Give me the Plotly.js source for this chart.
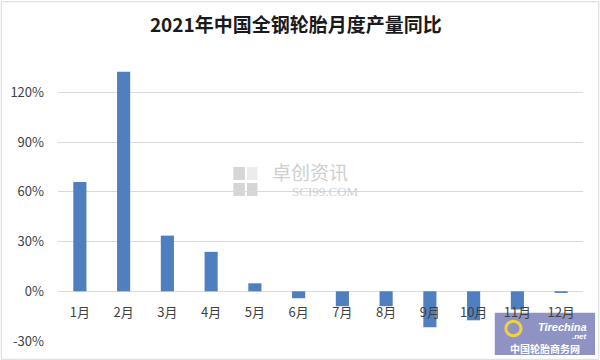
<!DOCTYPE html>
<html>
<head>
<meta charset="utf-8">
<script src="https://cdn.plot.ly/plotly-3.0.1.min.js"></script>
<style>html,body{margin:0;padding:0;background:#fff;}#chart{width:600px;height:360px;}</style>
</head>
<body>
<div id="chart"></div>
<script>
var months = ['1月','2月','3月','4月','5月','6月','7月','8月','9月','10月','11月','12月'];
var yoy = [0.66, 1.325, 0.336, 0.238, 0.048, -0.042, -0.09, -0.09, -0.217, -0.175, -0.11, -0.01];
var yTicks = [-0.3, 0, 0.3, 0.6, 0.9, 1.2];
var yTickText = ['-30%','0%','30%','60%','90%','120%'];

var yMin = -0.3, yMax = 1.45;
var zeroPos = (0 - yMin) / (yMax - yMin);
var cjk = '"Noto Sans CJK SC", "Noto Sans", sans-serif';

var data = [{
  type: 'bar',
  x: months,
  y: yoy,
  marker: {color: '#4f7fbf'},
  hoverinfo: 'x+y'
}];

var layout = {
  width: 600, height: 360,
  margin: {l: 58, r: 17, t: 51, b: 19},
  paper_bgcolor: '#ffffff',
  plot_bgcolor: 'rgba(0,0,0,0)',
  bargap: 0.7,
  showlegend: false,
  title: {
    text: '2021年中国全钢轮胎月度产量同比',
    font: {family: cjk, size: 19, color: '#1a1a1a', weight: 'bold'},
    x: 0.493, xanchor: 'center', xref: 'container', y: 0.93, yanchor: 'middle'
  },
  xaxis: {
    type: 'category',
    anchor: 'free',
    position: zeroPos,
    showgrid: false,
    zeroline: false,
    showline: false,
    ticks: '',
    ticklabelstandoff: 12,
    tickfont: {family: cjk, size: 13, color: '#404040'},
    fixedrange: true
  },
  yaxis: {
    range: [yMin, yMax],
    tickvals: yTicks,
    ticktext: yTickText,
    showgrid: true,
    gridcolor: '#d9d9d9',
    gridwidth: 1,
    zeroline: true,
    zerolinecolor: '#d9d9d9',
    zerolinewidth: 1,
    showline: false,
    ticks: '',
    ticklabelstandoff: 13,
    tickfont: {family: cjk, size: 13, color: '#404040'},
    fixedrange: true
  },
  shapes: [
    {type: 'rect', xref: 'paper', yref: 'paper', x0: -0.108, x1: 1.03, y0: -0.063, y1: 1.17,
     line: {color: '#d9d9d9', width: 1}, fillcolor: 'rgba(0,0,0,0)', layer: 'below'},
    {type: 'rect', xref: 'paper', yref: 'paper', x0: 0.334, x1: 0.356, y0: 0.555, y1: 0.6,
     line: {width: 0}, fillcolor: '#d6d6d6', layer: 'below'},
    {type: 'rect', xref: 'paper', yref: 'paper', x0: 0.36, x1: 0.38, y0: 0.555, y1: 0.6,
     line: {width: 0}, fillcolor: '#ececec', layer: 'below'},
    {type: 'rect', xref: 'paper', yref: 'paper', x0: 0.334, x1: 0.356, y0: 0.5, y1: 0.545,
     line: {width: 0}, fillcolor: '#d6d6d6', layer: 'below'},
    {type: 'rect', xref: 'paper', yref: 'paper', x0: 0.36, x1: 0.38, y0: 0.5, y1: 0.545,
     line: {width: 0}, fillcolor: '#d6d6d6', layer: 'below'},
    {type: 'rect', xref: 'paper', yref: 'paper', x0: 0.832, x1: 1.023, y0: -0.048, y1: 0.097,
     line: {width: 0}, fillcolor: '#8f93c4', layer: 'below'},
    {type: 'circle', xref: 'paper', yref: 'paper', x0: 0.853, x1: 0.882, y0: 0.018, y1: 0.068,
     line: {color: '#f2d23c', width: 3}, fillcolor: 'rgba(0,0,0,0)', layer: 'below'}
  ],
  annotations: [
    {xref: 'paper', yref: 'paper', x: 0.48, y: 0.585, text: '卓创资讯', showarrow: false,
     font: {family: cjk, size: 19, color: '#cfcfcf'}, xanchor: 'center', yanchor: 'middle'},
    {xref: 'paper', yref: 'paper', x: 0.509, y: 0.515, text: 'SCI99.COM', showarrow: false,
     font: {family: '"Liberation Serif", serif', size: 13, color: '#cfcfcf'}, xanchor: 'center', yanchor: 'middle'},
    {xref: 'paper', yref: 'paper', x: 0.96, y: 0.05, text: '<b><i>Tirechina</i></b>', showarrow: false,
     font: {family: '"Liberation Sans", sans-serif', size: 11, color: '#ffffff'}, xanchor: 'center', yanchor: 'middle'},
    {xref: 'paper', yref: 'paper', x: 1.012, y: 0.016, text: '<b><i>.net</i></b>', showarrow: false,
     font: {family: '"Liberation Sans", sans-serif', size: 8, color: '#ffffff'}, xanchor: 'right', yanchor: 'middle'},
    {xref: 'paper', yref: 'paper', x: 0.927, y: -0.026, text: '<b>中国轮胎商务网</b>', showarrow: false,
     font: {family: cjk, size: 10, color: '#ffffff'}, xanchor: 'center', yanchor: 'middle'}
  ]
};

Plotly.newPlot('chart', data, layout, {displayModeBar: false, staticPlot: true});
</script>
</body>
</html>
